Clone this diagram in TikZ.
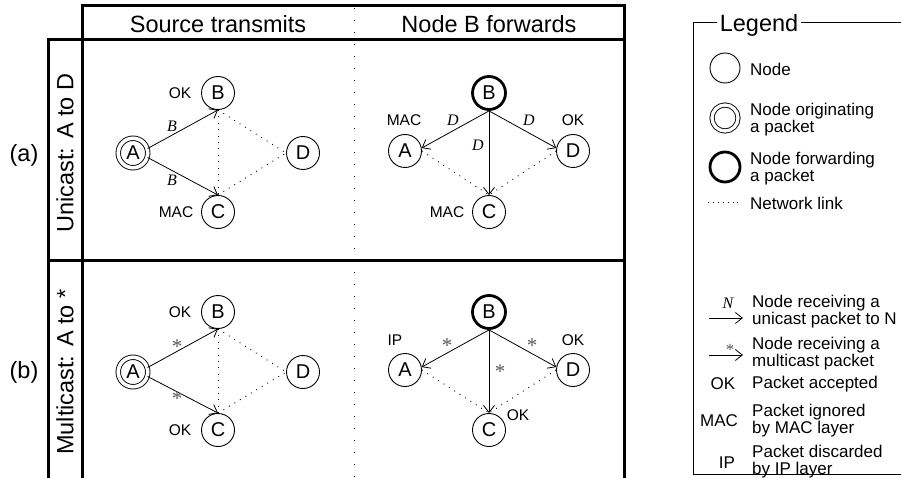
\documentclass[tikz,border=0pt]{standalone}
\usepackage{fontspec}
\setmainfont{Liberation Sans}
\newfontfamily\tmsfont{Liberation Serif}
\usetikzlibrary{arrows.meta}

\begin{document}
\begin{tikzpicture}[x=1pt,y=-1pt,
  frame/.style={line width=3pt},
  divider/.style={line width=1pt, dash pattern=on 1pt off 11pt},
  link/.style={line width=0.9pt, dash pattern=on 0.9pt off 5.5pt},
  sendarrow/.style={line width=0.8pt, -{Straight Barb[length=7pt,width=11pt,line width=0.8pt]}},
  stn/.style={circle, draw, line width=0.9pt, minimum size=33pt, inner sep=0pt, font=\fontsize{20}{22}\selectfont},
  orig/.style={stn, double, double distance=3.6pt, minimum size=29.5pt},
  fwd/.style={stn, line width=2.8pt},
  status/.style={font=\fontsize{15.5}{17}\selectfont, inner sep=0pt},
  addr/.style={font=\tmsfont\itshape\fontsize{16}{17}\selectfont, inner sep=0pt},
  mcast/.style={font=\tmsfont\fontsize{21}{21}\selectfont, inner sep=0pt, text=black!65},
  heading/.style={font=\fontsize{23.5}{26}\selectfont, inner sep=0pt},
  legtext/.style={font=\fontsize{17}{17}\selectfont, align=left, anchor=west, inner sep=0pt},
  legkey/.style={font=\fontsize{17}{17}\selectfont, inner sep=0pt},
  legsym/.style={circle, draw, line width=0.9pt, minimum size=30pt, inner sep=0pt},
]
\useasboundingbox (0,0) rectangle (901,478);

% ---------- table frame ----------
\draw[frame] (82,490) -- (82,5.5) -- (624,5.5) -- (624,490);
\draw[frame] (48,490) -- (48,40) -- (624,40);
\draw[frame] (48,260) -- (624,260);
\draw[divider] (354,8) -- (354,478);

\node[heading] (hsrc) at (218,24) {Source transmits};
\node[heading] (hfwd) at (489,24) {Node B forwards};
\node[heading] (rowa) at (24,155) {(a)};
\node[heading] (rowb) at (24,372) {(b)};
\node[heading, rotate=90] (uni) at (65,153) {Unicast: A to D};
\node[heading, rotate=90] (multi) at (65,372) {Multicast: A to *};

% ---------- (a) unicast, source transmits ----------
\node[orig] (a1A) at (133,153) {A};
\node[stn]  (a1B) at (218,93)  {B};
\node[stn]  (a1C) at (218,212) {C};
\node[stn]  (a1D) at (303,153) {D};
\draw[link] (a1B.south) -- (a1C.north);
\draw[link] (a1B.south) -- (a1D.west);
\draw[link] (a1C.north) -- (a1D.west);
\draw[sendarrow] (a1A.17) -- (a1B.south);
\draw[sendarrow] (a1A.-17) -- (a1C.north);
\node[addr] (a1lb) at (172,126) {B};
\node[addr] (a1lc) at (172,180) {B};
\node[status] (a1sB) at (180,93) {OK};
\node[status] (a1sC) at (176,212) {MAC};

% ---------- (a) unicast, node B forwards ----------
\node[fwd] (a2B) at (489,93)  {B};
\node[stn] (a2A) at (405,151) {A};
\node[stn] (a2C) at (489,212) {C};
\node[stn] (a2D) at (573,151) {D};
\draw[link] (a2A.east) -- (a2C.north);
\draw[link] (a2D.west) -- (a2C.north);
\draw[sendarrow] (a2B.south) -- (a2A.10);
\draw[sendarrow] (a2B.south) -- (a2D.170);
\draw[sendarrow] (a2B.south) -- (a2C.north);
\node[addr] (a2la) at (453,120) {D};
\node[addr] (a2ld) at (529,120) {D};
\node[addr] (a2lc) at (478,145) {D};
\node[status] (a2sA) at (404,120) {MAC};
\node[status] (a2sD) at (573,120) {OK};
\node[status] (a2sC) at (447,212) {MAC};

% ---------- (b) multicast, source transmits ----------
\node[orig] (b1A) at (133,372) {A};
\node[stn]  (b1B) at (218,312) {B};
\node[stn]  (b1C) at (218,430) {C};
\node[stn]  (b1D) at (303,372) {D};
\draw[link] (b1B.south) -- (b1C.north);
\draw[link] (b1B.south) -- (b1D.west);
\draw[link] (b1C.north) -- (b1D.west);
\draw[sendarrow] (b1A.17) -- (b1B.south);
\draw[sendarrow] (b1A.-17) -- (b1C.north);
\node[mcast] (b1lb) at (177,347) {*};
\node[mcast] (b1lc) at (177,399) {*};
\node[status] (b1sB) at (180,312) {OK};
\node[status] (b1sC) at (180,430) {OK};

% ---------- (b) multicast, node B forwards ----------
\node[fwd] (b2B) at (489,312) {B};
\node[stn] (b2A) at (405,370) {A};
\node[stn] (b2C) at (489,430) {C};
\node[stn] (b2D) at (573,370) {D};
\draw[link] (b2A.east) -- (b2C.north);
\draw[link] (b2D.west) -- (b2C.north);
\draw[sendarrow] (b2B.south) -- (b2A.10);
\draw[sendarrow] (b2B.south) -- (b2D.170);
\draw[sendarrow] (b2B.south) -- (b2C.north);
\node[mcast] (b2la) at (447,346) {*};
\node[mcast] (b2ld) at (532,346) {*};
\node[mcast] (b2lc) at (500,372) {*};
\node[status] (b2sA) at (395,340) {IP};
\node[status] (b2sD) at (573,340) {OK};
\node[status] (b2sC) at (518,415) {OK};

% ---------- legend ----------
\node[font=\fontsize{23.5}{24}\selectfont, inner sep=0pt, anchor=base] (legtitle) at (759,32) {Legend};
\draw[line width=1pt] (717,23) -| (693,474) -- (905,474);
\draw[line width=1pt] (801,23) -- (905,23);

\node[legsym] (kNode) at (725,68) {};
\node[legtext] (tNode) at (750,69) {Node};
\node[legsym, double, double distance=3.3pt, minimum size=26pt] (kOrig) at (725,118) {};
\node[legtext] (tOrig) at (750,120) {Node originating\\a packet};
\node[legsym, line width=2.8pt] (kFwd) at (725,167) {};
\node[legtext] (tFwd) at (750,169) {Node forwarding\\a packet};

\coordinate (kLinkL) at (708,202);
\coordinate (kLinkR) at (741,202);
\draw[link, dash pattern=on 0.9pt off 4pt] (kLinkL) -- (kLinkR);
\node[legtext] (tLink) at (750,203) {Network link};

\coordinate (kUniL) at (709,318);
\coordinate (kUniR) at (743,318);
\draw[sendarrow] (kUniL) -- (kUniR);
\node[addr] (kUniN) at (728,303) {N};
\node[legtext] (tUni) at (752,312) {Node receiving a\\unicast packet to N};

\coordinate (kMulL) at (709,355);
\coordinate (kMulR) at (743,355);
\draw[sendarrow] (kMulL) -- (kMulR);
\node[mcast, font=\tmsfont\fontsize{17}{17}\selectfont] (kMulS) at (730,350) {*};
\node[legtext] (tMul) at (752,354) {Node receiving a\\multicast packet};

\node[legkey] (kOK) at (723,384) {OK};
\node[legtext] (tOK) at (752,384) {Packet accepted};
\node[legkey] (kMAC) at (719,421) {MAC};
\node[legtext] (tMAC) at (752,421) {Packet ignored\\by MAC layer};
\node[legkey] (kIP) at (727,463) {IP};
\node[legtext] (tIP) at (752,462) {Packet discarded\\by IP layer};
\end{tikzpicture}
\end{document}
